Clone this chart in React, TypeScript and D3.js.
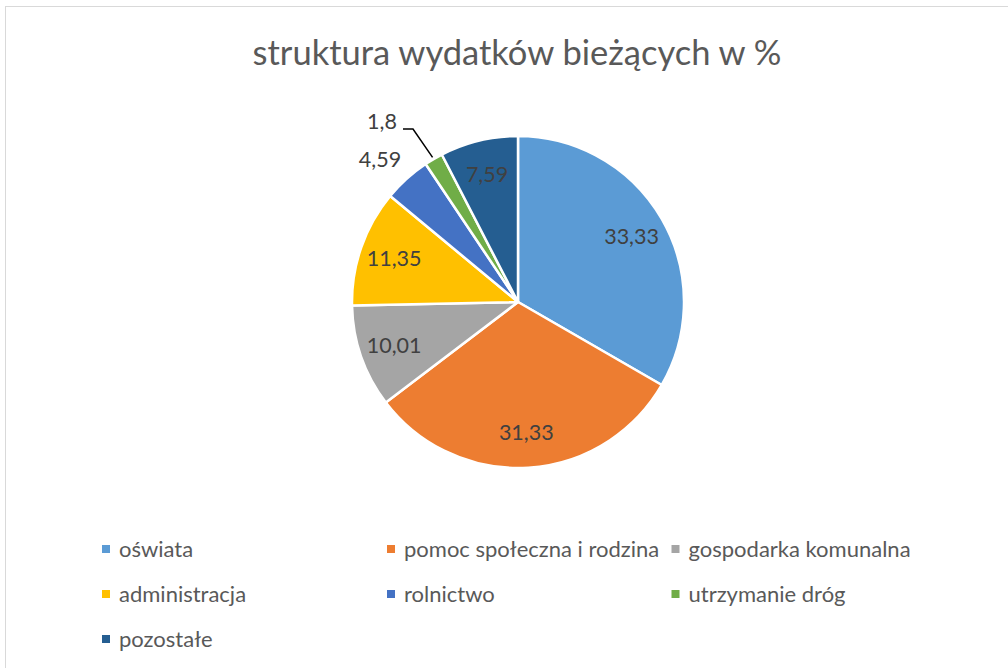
import React from "react";
import * as d3 from "d3";

const categories = [
  "oświata",
  "pomoc społeczna i rodzina",
  "gospodarka komunalna",
  "administracja",
  "rolnictwo",
  "utrzymanie dróg",
  "pozostałe",
];
const values = [33.33, 31.33, 10.01, 11.35, 4.59, 1.8, 7.59];
const labels = ["33,33", "31,33", "10,01", "11,35", "4,59", "1,8", "7,59"];
const colors = ["#5B9BD5", "#ED7D31", "#A5A5A5", "#FFC000", "#4472C4", "#70AD47", "#255E91"];
const title = "struktura wydatków bieżących w %";

const W = 1008;
const H = 668;
const cx = 518;
const cy = 302;
const R = 166;
const FONT = "Lato, 'Noto Sans', sans-serif";

export default function App() {
  const pie = d3.pie<number>().sort(null).value((d) => d)(values);
  const arc = d3.arc<d3.PieArcDatum<number>>().innerRadius(0).outerRadius(R);
  const labelArc = d3.arc<d3.PieArcDatum<number>>().innerRadius(R * 0.79).outerRadius(R * 0.79);

  // outside label placements (for small slices)
  const outside: Record<number, { x: number; y: number; leader?: boolean }> = {
    4: { x: 380, y: 167 },
    5: { x: 382, y: 129, leader: true },
  };

  const legendCols = [106, 391, 675.5];
  const legendRows = [549, 594, 639];

  return (
    <svg width={W} height={H} style={{ position: "absolute", left: 0, top: 0 }}>
      <rect x={0} y={0} width={W} height={H} fill="#fff" />
      <rect x={5.5} y={6.5} width={W + 10} height={H + 10} fill="#fff" stroke="#D9D9D9" strokeWidth={1} />
      <text x={517} y={65} textAnchor="middle" fontFamily={FONT} fontSize={34.5} fill="#595959">
        {title}
      </text>
      <g transform={`translate(${cx},${cy})`}>
        {pie.map((p, i) => (
          <path key={i} d={arc(p) as string} fill={colors[i]} stroke="#fff" strokeWidth={2.5} strokeLinejoin="round" />
        ))}
      </g>
      {pie.map((p, i) => {
        if (outside[i]) return null;
        const [lx, ly] = labelArc.centroid(p);
        return (
          <text key={i} x={cx + lx} y={cy + ly + 7.5} textAnchor="middle" fontFamily={FONT} fontSize={21.5} fill="#404040">
            {labels[i]}
          </text>
        );
      })}
      {Object.entries(outside).map(([k, o]) => {
        const i = +k;
        const p = pie[i];
        const mid = (p.startAngle + p.endAngle) / 2;
        const ex = cx + Math.sin(mid) * (R + 2);
        const ey = cy - Math.cos(mid) * (R + 2);
        return (
          <g key={k}>
            {o.leader && (
              <polyline
                points={`${o.x + 21},${o.y} ${o.x + 31},${o.y} ${ex},${ey}`}
                fill="none"
                stroke="#000"
                strokeWidth={1.5}
              />
            )}
            <text x={o.x} y={o.y} textAnchor="middle" fontFamily={FONT} fontSize={21.5} fill="#404040">
              {labels[i]}
            </text>
          </g>
        );
      })}
      {categories.map((c, i) => {
        const x = legendCols[i % 3];
        const y = legendRows[Math.floor(i / 3)];
        return (
          <g key={c}>
            <rect x={x - 4} y={y - 4} width={8} height={8} fill={colors[i]} />
            <text x={x + 13} y={y + 8} fontFamily={FONT} fontSize={22} fill="#595959">
              {c}
            </text>
          </g>
        );
      })}
    </svg>
  );
}
